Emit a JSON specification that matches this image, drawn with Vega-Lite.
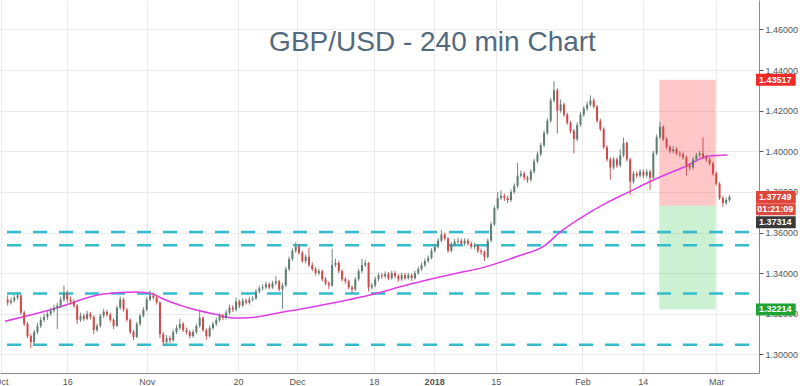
{
"$schema": "https://vega.github.io/schema/vega-lite/v6.json",
"width": 759, "height": 373,
"autosize": {"type": "none"},
"padding": {"left": 0, "top": 0, "right": 41, "bottom": 13},
"background": "white",
"title": {"text": "GBP/USD - 240 min Chart", "anchor": "middle", "dx": 53, "offset": -79, "baseline": "alphabetic", "fontSize": 28, "font": "Liberation Sans", "fontWeight": "normal", "color": "#536a7e"},
"config": {"view": {"stroke": null}, "font": "Liberation Sans"},
"datasets": {
"candles": [
{"d":-9,"o":1.3270,"h":1.3290,"l":1.3240,"c":1.3255},
{"d":-8.5,"o":1.3255,"h":1.3280,"l":1.3245,"c":1.3265},
{"d":-8,"o":1.3265,"h":1.3292,"l":1.3255,"c":1.3280},
{"d":-7.5,"o":1.3280,"h":1.3305,"l":1.3268,"c":1.3290},
{"d":-7,"o":1.3290,"h":1.3295,"l":1.3195,"c":1.3205},
{"d":-6.5,"o":1.3205,"h":1.3215,"l":1.3140,"c":1.3150},
{"d":-6,"o":1.3150,"h":1.3160,"l":1.3080,"c":1.3090},
{"d":-5.5,"o":1.3090,"h":1.3100,"l":1.3030,"c":1.3060},
{"d":-5,"o":1.3060,"h":1.3120,"l":1.3050,"c":1.3110},
{"d":-4.5,"o":1.3110,"h":1.3155,"l":1.3100,"c":1.3140},
{"d":-4,"o":1.3140,"h":1.3185,"l":1.3130,"c":1.3170},
{"d":-3.5,"o":1.3170,"h":1.3200,"l":1.3160,"c":1.3185},
{"d":-3,"o":1.3185,"h":1.3215,"l":1.3170,"c":1.3200},
{"d":-2.5,"o":1.3200,"h":1.3230,"l":1.3190,"c":1.3215},
{"d":-2,"o":1.3215,"h":1.3245,"l":1.3205,"c":1.3230},
{"d":-1.5,"o":1.3230,"h":1.3255,"l":1.3125,"c":1.3240},
{"d":-1,"o":1.3240,"h":1.3285,"l":1.3230,"c":1.3270},
{"d":-0.5,"o":1.3270,"h":1.3338,"l":1.3260,"c":1.3300},
{"d":0,"o":1.3300,"h":1.3315,"l":1.3255,"c":1.3270},
{"d":0.5,"o":1.3270,"h":1.3285,"l":1.3245,"c":1.3260},
{"d":1,"o":1.3260,"h":1.3272,"l":1.3228,"c":1.3240},
{"d":1.5,"o":1.3240,"h":1.3248,"l":1.3150,"c":1.3170},
{"d":2,"o":1.3170,"h":1.3205,"l":1.3160,"c":1.3190},
{"d":2.5,"o":1.3190,"h":1.3200,"l":1.3165,"c":1.3175},
{"d":3,"o":1.3175,"h":1.3215,"l":1.3168,"c":1.3200},
{"d":3.5,"o":1.3200,"h":1.3210,"l":1.3172,"c":1.3185},
{"d":4,"o":1.3185,"h":1.3192,"l":1.3100,"c":1.3120},
{"d":4.5,"o":1.3120,"h":1.3152,"l":1.3110,"c":1.3140},
{"d":5,"o":1.3140,"h":1.3200,"l":1.3132,"c":1.3190},
{"d":5.5,"o":1.3190,"h":1.3225,"l":1.3180,"c":1.3210},
{"d":6,"o":1.3210,"h":1.3220,"l":1.3185,"c":1.3195},
{"d":6.5,"o":1.3195,"h":1.3205,"l":1.3160,"c":1.3170},
{"d":7,"o":1.3170,"h":1.3178,"l":1.3125,"c":1.3140},
{"d":7.5,"o":1.3140,"h":1.3240,"l":1.3135,"c":1.3230},
{"d":8,"o":1.3230,"h":1.3285,"l":1.3220,"c":1.3270},
{"d":8.5,"o":1.3270,"h":1.3278,"l":1.3210,"c":1.3220},
{"d":9,"o":1.3220,"h":1.3228,"l":1.3160,"c":1.3170},
{"d":9.5,"o":1.3170,"h":1.3178,"l":1.3100,"c":1.3110},
{"d":10,"o":1.3110,"h":1.3120,"l":1.3070,"c":1.3085},
{"d":10.5,"o":1.3085,"h":1.3160,"l":1.3080,"c":1.3150},
{"d":11,"o":1.3150,"h":1.3200,"l":1.3140,"c":1.3190},
{"d":11.5,"o":1.3190,"h":1.3232,"l":1.3182,"c":1.3220},
{"d":12,"o":1.3220,"h":1.3282,"l":1.3212,"c":1.3270},
{"d":12.5,"o":1.3270,"h":1.3315,"l":1.3262,"c":1.3290},
{"d":13,"o":1.3290,"h":1.3305,"l":1.3270,"c":1.3280},
{"d":13.5,"o":1.3280,"h":1.3292,"l":1.3245,"c":1.3255},
{"d":14,"o":1.3255,"h":1.3262,"l":1.3080,"c":1.3100},
{"d":14.5,"o":1.3100,"h":1.3110,"l":1.3040,"c":1.3060},
{"d":15,"o":1.3060,"h":1.3095,"l":1.3050,"c":1.3080},
{"d":15.5,"o":1.3080,"h":1.3092,"l":1.3055,"c":1.3070},
{"d":16,"o":1.3070,"h":1.3122,"l":1.3062,"c":1.3110},
{"d":16.5,"o":1.3110,"h":1.3145,"l":1.3100,"c":1.3130},
{"d":17,"o":1.3130,"h":1.3175,"l":1.3120,"c":1.3150},
{"d":17.5,"o":1.3150,"h":1.3160,"l":1.3110,"c":1.3120},
{"d":18,"o":1.3120,"h":1.3132,"l":1.3098,"c":1.3110},
{"d":18.5,"o":1.3110,"h":1.3120,"l":1.3078,"c":1.3090},
{"d":19,"o":1.3090,"h":1.3122,"l":1.3082,"c":1.3110},
{"d":19.5,"o":1.3110,"h":1.3152,"l":1.3100,"c":1.3140},
{"d":20,"o":1.3140,"h":1.3222,"l":1.3132,"c":1.3180},
{"d":20.5,"o":1.3180,"h":1.3188,"l":1.3110,"c":1.3120},
{"d":21,"o":1.3120,"h":1.3128,"l":1.3072,"c":1.3090},
{"d":21.5,"o":1.3090,"h":1.3142,"l":1.3082,"c":1.3130},
{"d":22,"o":1.3130,"h":1.3162,"l":1.3120,"c":1.3150},
{"d":22.5,"o":1.3150,"h":1.3182,"l":1.3140,"c":1.3170},
{"d":23,"o":1.3170,"h":1.3202,"l":1.3160,"c":1.3190},
{"d":23.5,"o":1.3190,"h":1.3200,"l":1.3168,"c":1.3180},
{"d":24,"o":1.3180,"h":1.3218,"l":1.3172,"c":1.3205},
{"d":24.5,"o":1.3205,"h":1.3245,"l":1.3195,"c":1.3230},
{"d":25,"o":1.3230,"h":1.3242,"l":1.3208,"c":1.3220},
{"d":25.5,"o":1.3220,"h":1.3280,"l":1.3212,"c":1.3260},
{"d":26,"o":1.3260,"h":1.3270,"l":1.3228,"c":1.3240},
{"d":26.5,"o":1.3240,"h":1.3278,"l":1.3232,"c":1.3265},
{"d":27,"o":1.3265,"h":1.3275,"l":1.3245,"c":1.3255},
{"d":27.5,"o":1.3255,"h":1.3282,"l":1.3245,"c":1.3270},
{"d":28,"o":1.3270,"h":1.3288,"l":1.3260,"c":1.3275},
{"d":28.5,"o":1.3275,"h":1.3322,"l":1.3268,"c":1.3310},
{"d":29,"o":1.3310,"h":1.3338,"l":1.3300,"c":1.3325},
{"d":29.5,"o":1.3325,"h":1.3345,"l":1.3315,"c":1.3330},
{"d":30,"o":1.3330,"h":1.3358,"l":1.3322,"c":1.3345},
{"d":30.5,"o":1.3345,"h":1.3355,"l":1.3320,"c":1.3330},
{"d":31,"o":1.3330,"h":1.3362,"l":1.3322,"c":1.3350},
{"d":31.5,"o":1.3350,"h":1.3385,"l":1.3340,"c":1.3360},
{"d":32,"o":1.3360,"h":1.3368,"l":1.3310,"c":1.3320},
{"d":32.5,"o":1.3320,"h":1.3352,"l":1.3225,"c":1.3340},
{"d":33,"o":1.3340,"h":1.3432,"l":1.3332,"c":1.3420},
{"d":33.5,"o":1.3420,"h":1.3482,"l":1.3410,"c":1.3470},
{"d":34,"o":1.3470,"h":1.3522,"l":1.3460,"c":1.3510},
{"d":34.5,"o":1.3510,"h":1.3552,"l":1.3500,"c":1.3530},
{"d":35,"o":1.3530,"h":1.3545,"l":1.3490,"c":1.3500},
{"d":35.5,"o":1.3500,"h":1.3510,"l":1.3450,"c":1.3460},
{"d":36,"o":1.3460,"h":1.3492,"l":1.3448,"c":1.3480},
{"d":36.5,"o":1.3480,"h":1.3525,"l":1.3430,"c":1.3440},
{"d":37,"o":1.3440,"h":1.3452,"l":1.3410,"c":1.3420},
{"d":37.5,"o":1.3420,"h":1.3430,"l":1.3388,"c":1.3400},
{"d":38,"o":1.3400,"h":1.3422,"l":1.3390,"c":1.3410},
{"d":38.5,"o":1.3410,"h":1.3418,"l":1.3360,"c":1.3370},
{"d":39,"o":1.3370,"h":1.3380,"l":1.3340,"c":1.3350},
{"d":39.5,"o":1.3350,"h":1.3360,"l":1.3322,"c":1.3340},
{"d":40,"o":1.3340,"h":1.3520,"l":1.3332,"c":1.3440},
{"d":40.5,"o":1.3440,"h":1.3470,"l":1.3430,"c":1.3450},
{"d":41,"o":1.3450,"h":1.3460,"l":1.3400,"c":1.3410},
{"d":41.5,"o":1.3410,"h":1.3418,"l":1.3360,"c":1.3370},
{"d":42,"o":1.3370,"h":1.3380,"l":1.3348,"c":1.3360},
{"d":42.5,"o":1.3360,"h":1.3368,"l":1.3320,"c":1.3330},
{"d":43,"o":1.3330,"h":1.3340,"l":1.3302,"c":1.3320},
{"d":43.5,"o":1.3320,"h":1.3380,"l":1.3312,"c":1.3370},
{"d":44,"o":1.3370,"h":1.3422,"l":1.3362,"c":1.3410},
{"d":44.5,"o":1.3410,"h":1.3470,"l":1.3400,"c":1.3440},
{"d":45,"o":1.3440,"h":1.3465,"l":1.3430,"c":1.3450},
{"d":45.5,"o":1.3450,"h":1.3455,"l":1.3310,"c":1.3330},
{"d":46,"o":1.3330,"h":1.3352,"l":1.3320,"c":1.3340},
{"d":46.5,"o":1.3340,"h":1.3382,"l":1.3330,"c":1.3370},
{"d":47,"o":1.3370,"h":1.3402,"l":1.3360,"c":1.3390},
{"d":47.5,"o":1.3390,"h":1.3400,"l":1.3372,"c":1.3385},
{"d":48,"o":1.3385,"h":1.3408,"l":1.3375,"c":1.3395},
{"d":48.5,"o":1.3395,"h":1.3405,"l":1.3365,"c":1.3375},
{"d":49,"o":1.3375,"h":1.3412,"l":1.3368,"c":1.3400},
{"d":49.5,"o":1.3400,"h":1.3410,"l":1.3375,"c":1.3385},
{"d":50,"o":1.3385,"h":1.3395,"l":1.3358,"c":1.3370},
{"d":50.5,"o":1.3370,"h":1.3402,"l":1.3362,"c":1.3390},
{"d":51,"o":1.3390,"h":1.3400,"l":1.3365,"c":1.3375},
{"d":51.5,"o":1.3375,"h":1.3402,"l":1.3368,"c":1.3390},
{"d":52,"o":1.3390,"h":1.3398,"l":1.3362,"c":1.3375},
{"d":52.5,"o":1.3375,"h":1.3412,"l":1.3368,"c":1.3400},
{"d":53,"o":1.3400,"h":1.3432,"l":1.3392,"c":1.3420},
{"d":53.5,"o":1.3420,"h":1.3452,"l":1.3410,"c":1.3440},
{"d":54,"o":1.3440,"h":1.3472,"l":1.3430,"c":1.3460},
{"d":54.5,"o":1.3460,"h":1.3488,"l":1.3450,"c":1.3475},
{"d":55,"o":1.3475,"h":1.3522,"l":1.3468,"c":1.3510},
{"d":55.5,"o":1.3510,"h":1.3542,"l":1.3500,"c":1.3530},
{"d":56,"o":1.3530,"h":1.3572,"l":1.3522,"c":1.3560},
{"d":56.5,"o":1.3560,"h":1.3612,"l":1.3550,"c":1.3590},
{"d":57,"o":1.3590,"h":1.3600,"l":1.3560,"c":1.3570},
{"d":57.5,"o":1.3570,"h":1.3578,"l":1.3500,"c":1.3510},
{"d":58,"o":1.3510,"h":1.3552,"l":1.3502,"c":1.3540},
{"d":58.5,"o":1.3540,"h":1.3568,"l":1.3530,"c":1.3555},
{"d":59,"o":1.3555,"h":1.3575,"l":1.3545,"c":1.3560},
{"d":59.5,"o":1.3560,"h":1.3570,"l":1.3535,"c":1.3545},
{"d":60,"o":1.3545,"h":1.3572,"l":1.3535,"c":1.3560},
{"d":60.5,"o":1.3560,"h":1.3570,"l":1.3535,"c":1.3545},
{"d":61,"o":1.3545,"h":1.3555,"l":1.3520,"c":1.3530},
{"d":61.5,"o":1.3530,"h":1.3548,"l":1.3518,"c":1.3535},
{"d":62,"o":1.3535,"h":1.3542,"l":1.3498,"c":1.3510},
{"d":62.5,"o":1.3510,"h":1.3520,"l":1.3490,"c":1.3505},
{"d":63,"o":1.3505,"h":1.3512,"l":1.3460,"c":1.3480},
{"d":63.5,"o":1.3480,"h":1.3570,"l":1.3472,"c":1.3560},
{"d":64,"o":1.3560,"h":1.3652,"l":1.3552,"c":1.3640},
{"d":64.5,"o":1.3640,"h":1.3732,"l":1.3632,"c":1.3720},
{"d":65,"o":1.3720,"h":1.3800,"l":1.3710,"c":1.3770},
{"d":65.5,"o":1.3770,"h":1.3808,"l":1.3760,"c":1.3780},
{"d":66,"o":1.3780,"h":1.3792,"l":1.3755,"c":1.3770},
{"d":66.5,"o":1.3770,"h":1.3782,"l":1.3745,"c":1.3760},
{"d":67,"o":1.3760,"h":1.3812,"l":1.3750,"c":1.3800},
{"d":67.5,"o":1.3800,"h":1.3842,"l":1.3790,"c":1.3830},
{"d":68,"o":1.3830,"h":1.3943,"l":1.3820,"c":1.3880},
{"d":68.5,"o":1.3880,"h":1.3905,"l":1.3870,"c":1.3890},
{"d":69,"o":1.3890,"h":1.3900,"l":1.3858,"c":1.3870},
{"d":69.5,"o":1.3870,"h":1.3880,"l":1.3845,"c":1.3860},
{"d":70,"o":1.3860,"h":1.3912,"l":1.3850,"c":1.3900},
{"d":70.5,"o":1.3900,"h":1.3962,"l":1.3890,"c":1.3950},
{"d":71,"o":1.3950,"h":1.3998,"l":1.3940,"c":1.3985},
{"d":71.5,"o":1.3985,"h":1.4042,"l":1.3975,"c":1.4030},
{"d":72,"o":1.4030,"h":1.4102,"l":1.4020,"c":1.4090},
{"d":72.5,"o":1.4090,"h":1.4162,"l":1.4080,"c":1.4150},
{"d":73,"o":1.4150,"h":1.4262,"l":1.4140,"c":1.4250},
{"d":73.5,"o":1.4250,"h":1.4345,"l":1.4240,"c":1.4300},
{"d":74,"o":1.4300,"h":1.4310,"l":1.4088,"c":1.4200},
{"d":74.5,"o":1.4200,"h":1.4255,"l":1.4190,"c":1.4230},
{"d":75,"o":1.4230,"h":1.4240,"l":1.4170,"c":1.4180},
{"d":75.5,"o":1.4180,"h":1.4190,"l":1.4130,"c":1.4140},
{"d":76,"o":1.4140,"h":1.4150,"l":1.4088,"c":1.4100},
{"d":76.5,"o":1.4100,"h":1.4110,"l":1.3990,"c":1.4060},
{"d":77,"o":1.4060,"h":1.4142,"l":1.4050,"c":1.4130},
{"d":77.5,"o":1.4130,"h":1.4192,"l":1.4120,"c":1.4180},
{"d":78,"o":1.4180,"h":1.4222,"l":1.4170,"c":1.4210},
{"d":78.5,"o":1.4210,"h":1.4245,"l":1.4200,"c":1.4230},
{"d":79,"o":1.4230,"h":1.4275,"l":1.4220,"c":1.4250},
{"d":79.5,"o":1.4250,"h":1.4262,"l":1.4210,"c":1.4220},
{"d":80,"o":1.4220,"h":1.4228,"l":1.4140,"c":1.4150},
{"d":80.5,"o":1.4150,"h":1.4160,"l":1.4100,"c":1.4110},
{"d":81,"o":1.4110,"h":1.4118,"l":1.4010,"c":1.4020},
{"d":81.5,"o":1.4020,"h":1.4030,"l":1.3950,"c":1.3960},
{"d":82,"o":1.3960,"h":1.3970,"l":1.3860,"c":1.3920},
{"d":82.5,"o":1.3920,"h":1.3972,"l":1.3910,"c":1.3960},
{"d":83,"o":1.3960,"h":1.3970,"l":1.3918,"c":1.3930},
{"d":83.5,"o":1.3930,"h":1.4010,"l":1.3920,"c":1.3980},
{"d":84,"o":1.3980,"h":1.4068,"l":1.3970,"c":1.4040},
{"d":84.5,"o":1.4040,"h":1.4048,"l":1.3950,"c":1.3960},
{"d":85,"o":1.3960,"h":1.3968,"l":1.3786,"c":1.3850},
{"d":85.5,"o":1.3850,"h":1.3902,"l":1.3840,"c":1.3890},
{"d":86,"o":1.3890,"h":1.3900,"l":1.3868,"c":1.3880},
{"d":86.5,"o":1.3880,"h":1.3912,"l":1.3870,"c":1.3900},
{"d":87,"o":1.3900,"h":1.3910,"l":1.3868,"c":1.3880},
{"d":87.5,"o":1.3880,"h":1.3912,"l":1.3870,"c":1.3900},
{"d":88,"o":1.3900,"h":1.3908,"l":1.3810,"c":1.3870},
{"d":88.5,"o":1.3870,"h":1.4002,"l":1.3862,"c":1.3990},
{"d":89,"o":1.3990,"h":1.4082,"l":1.3980,"c":1.4070},
{"d":89.5,"o":1.4070,"h":1.4145,"l":1.4060,"c":1.4120},
{"d":90,"o":1.4120,"h":1.4128,"l":1.4050,"c":1.4060},
{"d":90.5,"o":1.4060,"h":1.4070,"l":1.4010,"c":1.4020},
{"d":91,"o":1.4020,"h":1.4030,"l":1.3990,"c":1.4000},
{"d":91.5,"o":1.4000,"h":1.4025,"l":1.3990,"c":1.4010},
{"d":92,"o":1.4010,"h":1.4020,"l":1.3980,"c":1.3990},
{"d":92.5,"o":1.3990,"h":1.4000,"l":1.3972,"c":1.3985},
{"d":93,"o":1.3985,"h":1.3995,"l":1.3958,"c":1.3970},
{"d":93.5,"o":1.3970,"h":1.3978,"l":1.3880,"c":1.3930},
{"d":94,"o":1.3930,"h":1.3942,"l":1.3905,"c":1.3920},
{"d":94.5,"o":1.3920,"h":1.3972,"l":1.3910,"c":1.3960},
{"d":95,"o":1.3960,"h":1.3992,"l":1.3950,"c":1.3980},
{"d":95.5,"o":1.3980,"h":1.4002,"l":1.3970,"c":1.3990},
{"d":96,"o":1.3990,"h":1.4068,"l":1.3960,"c":1.3970},
{"d":96.5,"o":1.3970,"h":1.3982,"l":1.3948,"c":1.3960},
{"d":97,"o":1.3960,"h":1.3970,"l":1.3930,"c":1.3940},
{"d":97.5,"o":1.3940,"h":1.3948,"l":1.3880,"c":1.3890},
{"d":98,"o":1.3890,"h":1.3898,"l":1.3830,"c":1.3840},
{"d":98.5,"o":1.3840,"h":1.3848,"l":1.3760,"c":1.3770},
{"d":99,"o":1.3770,"h":1.3780,"l":1.3725,"c":1.3745},
{"d":99.5,"o":1.3745,"h":1.3772,"l":1.3735,"c":1.3760},
{"d":100,"o":1.3760,"h":1.3785,"l":1.3750,"c":1.3775}
],
"ma": [
{"d":-9.4,"p":1.3163},{"d":-2.0,"p":1.3225},{"d":5.5,"p":1.3297},{"d":10.4,"p":1.3307},{"d":13.0,"p":1.3297},{"d":14.0,"p":1.3280},{"d":18.0,"p":1.3232},{"d":22.6,"p":1.3196},{"d":25.2,"p":1.3179},{"d":28.0,"p":1.3182},{"d":32.0,"p":1.3205},{"d":37.2,"p":1.3235},{"d":45.7,"p":1.3292},{"d":51.7,"p":1.3345},{"d":59.1,"p":1.3402},{"d":62.6,"p":1.3426},{"d":68.1,"p":1.3484},{"d":72.1,"p":1.3536},{"d":74.5,"p":1.3604},{"d":77.5,"p":1.3671},{"d":81.5,"p":1.3747},{"d":84.5,"p":1.3795},{"d":89.4,"p":1.3872},{"d":93.0,"p":1.3920},{"d":96.9,"p":1.3977},{"d":99.7,"p":1.3982}
],
"levels": [{"p":1.3602},{"p":1.3537},{"p":1.3300},{"p":1.3048}],
"zones": [
{"zone":"stop","d":89.4,"d2":97.9,"p":1.43517,"p2":1.37314},
{"zone":"target","d":89.4,"d2":97.9,"p":1.37314,"p2":1.32214}
],
"tags": [
{"label":"1.43517","kind":"stop","at":1.43517},
{"label":"1.37749","kind":"last","at":1.37749},
{"label":"01:21:09","kind":"timer","at":1.3714},
{"label":"1.37314","kind":"entry","at":1.3651},
{"label":"1.32214","kind":"target","at":1.32214}
]
},
"layer": [
{
"data": {"name": "zones"},
"mark": {"type": "rect", "opacity": 0.22},
"encoding": {
"x": {"field": "d", "type": "quantitative", "scale": {"domain": [-9.4, 103.7], "nice": false, "zero": false},
"axis": {"values": [-10, 0, 12, 25.8, 34.7, 46.3, 55.4, 64.7, 77.8, 86.9, 98],
"labelExpr": "datum.value==-10?'Oct':datum.value==0?'16':datum.value==12?'Nov':datum.value==25.8?'20':datum.value==34.7?'Dec':datum.value==46.3?'18':datum.value==55.4?'2018':datum.value==64.7?'15':datum.value==77.8?'Feb':datum.value==86.9?'14':'Mar'",
"title": null, "zindex": 0, "grid": true, "gridColor": "#ebebeb", "domainColor": "#8a8a8a", "ticks": false, "labelColor": "#555555", "labelFontSize": 9, "labelPadding": 4, "labelOverlap": false, "labelFlush": false,
"labelFontWeight": {"condition": {"test": "datum.value == 55.4", "value": "bold"}, "value": "normal"}}},
"x2": {"field": "d2"},
"y": {"field": "p", "type": "quantitative", "scale": {"domain": [1.2933, 1.472], "nice": false, "zero": false},
"axis": {"orient": "right", "zindex": 0, "values": [1.30, 1.32, 1.34, 1.36, 1.38, 1.40, 1.42, 1.44, 1.46], "format": ".5f", "title": null, "grid": true, "gridColor": "#ebebeb", "domainColor": "#8a8a8a", "tickColor": "#555555", "tickSize": 4, "labelPadding": 2, "labelFontSize": 9, "labelColor": "#555555"}},
"y2": {"field": "p2"},
"color": {"field": "zone", "type": "nominal", "scale": {"domain": ["stop", "target"], "range": ["#ff0000", "#11bb33"]}, "legend": null}
}
},
{
"mark": {"type": "rule", "color": "#8c8c8c", "strokeWidth": 1},
"encoding": {"x": {"datum": 89.4, "type": "quantitative"}, "x2": {"datum": 97.9}, "y": {"datum": 1.37314, "type": "quantitative"}}
},
{
"data": {"name": "levels"},
"mark": {"type": "rule", "color": "#33bccd", "strokeWidth": 2.5, "strokeDash": [14, 12], "strokeDashOffset": 16},
"encoding": {"y": {"field": "p", "type": "quantitative"}}
},
{
"mark": {"type": "rule", "color": "#e04a4a", "strokeWidth": 1, "strokeDash": [1, 2]},
"encoding": {"y": {"datum": 1.37749, "type": "quantitative"}}
},
{
"data": {"name": "ma"},
"mark": {"type": "line", "color": "#e03ce6", "strokeWidth": 1.5, "interpolate": "monotone"},
"encoding": {"x": {"field": "d", "type": "quantitative"}, "y": {"field": "p", "type": "quantitative"}}
},
{
"data": {"name": "candles"},
"mark": {"type": "rule", "strokeWidth": 1},
"encoding": {
"x": {"field": "d", "type": "quantitative"},
"y": {"field": "l", "type": "quantitative"},
"y2": {"field": "h"},
"color": {"condition": {"test": "datum.c > datum.o", "value": "#6f8a80"}, "value": "#c95858"}
}
},
{
"data": {"name": "candles"},
"mark": {"type": "bar", "width": 2},
"encoding": {
"x": {"field": "d", "type": "quantitative"},
"y": {"field": "o", "type": "quantitative"},
"y2": {"field": "c"},
"color": {"condition": {"test": "datum.c > datum.o", "value": "#5c7d70"}, "value": "#d04848"}
}
},
{
"data": {"name": "tags"},
"mark": {"type": "bar"},
"encoding": {
"x": {"datum": 104, "type": "quantitative"},
"x2": {"datum": 110},
"y": {"field": "at", "type": "quantitative"},
"size": {"value": 12},
"fill": {"field": "kind", "type": "nominal", "scale": {"domain": ["stop", "last", "timer", "entry", "target"], "range": ["#ef2a26", "#e0453b", "#dc4a40", "#3a3a3a", "#1fa334"]}, "legend": null}
}
},
{
"data": {"name": "tags"},
"mark": {"type": "text", "color": "white", "fontWeight": "bold", "fontSize": 9, "baseline": "middle", "align": "center"},
"encoding": {
"x": {"datum": 106.9, "type": "quantitative"},
"y": {"field": "at", "type": "quantitative"},
"text": {"field": "label"}
}
}
]
}
